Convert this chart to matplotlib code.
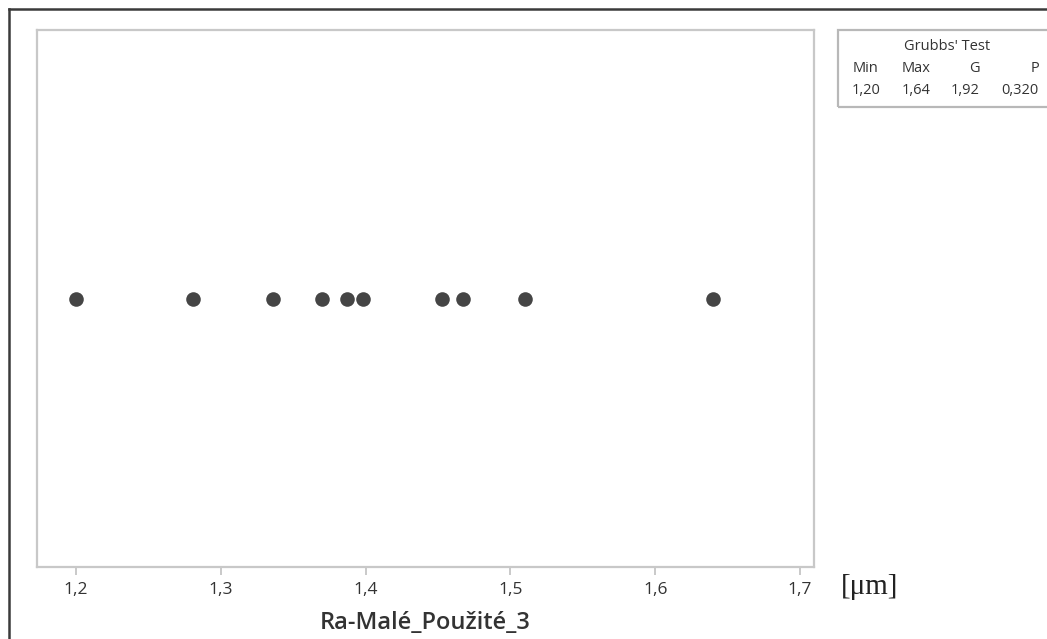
import matplotlib
matplotlib.use("Agg")
import matplotlib.pyplot as plt
from matplotlib.lines import Line2D
from matplotlib.patches import Rectangle

# Surface roughness Ra measurements
ra_values = [1.20, 1.281, 1.336, 1.370, 1.387, 1.398, 1.453, 1.467, 1.510, 1.640]
tick_values = [1.2, 1.3, 1.4, 1.5, 1.6, 1.7]
tick_labels = ["1,2", "1,3", "1,4", "1,5", "1,6", "1,7"]
x_label = "Ra-Malé_Použité_3"
unit_label = "[μm]"

# Grubbs' test summary
grubbs_headers = ["Min", "Max", "G", "P"]
grubbs_values = ["1,20", "1,64", "1,92", "0,320"]

W, H = 1047, 639
fig = plt.figure(figsize=(W / 100, H / 100), dpi=100)
fig.patch.set_facecolor("white")

def fx(px):
    return px / W

def fy(py):
    return 1 - py / H

# Outer frame (left and top edges visible)
fig.add_artist(Line2D([fx(9), fx(9)], [fy(9), fy(H + 5)], color="#3a3a3a", lw=1.8,
                      transform=fig.transFigure))
fig.add_artist(Line2D([fx(9), fx(W + 5)], [fy(9), fy(9)], color="#3a3a3a", lw=1.8,
                      transform=fig.transFigure))

ax_l, ax_r, ax_t, ax_b = 37, 814, 30, 567
ax = fig.add_axes([fx(ax_l), fy(ax_b), fx(ax_r - ax_l), (ax_b - ax_t) / H])
ax.scatter(ra_values, [0] * len(ra_values), s=110, color="#454545", zorder=3, linewidths=0)
ax.set_xlim(1.173, 1.7097)
ax.set_ylim(-1, 1)
ax.set_yticks([])
ax.set_xticks(tick_values)
ax.set_xticklabels(tick_labels, fontfamily="Open Sans", fontsize=12.5, color="#333333")
ax.tick_params(axis="x", length=6, width=1.2, color="#c0c0c0", pad=5)
for sp in ax.spines.values():
    sp.set_color("#c8c8c8")
    sp.set_linewidth(1.6)

fig.text(fx((ax_l + ax_r) / 2), fy(623), x_label, ha="center", va="center",
         fontfamily="Open Sans", fontsize=17, fontweight="semibold", color="#333333")
fig.text(fx(841), fy(587), unit_label, ha="left", va="center",
         fontfamily="Liberation Serif", fontsize=21, color="#222222")

# Grubbs' test box
box_l, box_t, box_b = 838, 30, 107
fig.add_artist(Rectangle((fx(box_l), fy(box_b)), fx(W + 10 - box_l), (box_b - box_t) / H,
                         transform=fig.transFigure, fill=False, edgecolor="#b8b8b8", lw=1.6))
fig.text(fx(947), fy(47), "Grubbs' Test", ha="center", va="center",
         fontfamily="Open Sans", fontsize=10.5, color="#333333")
col_x = [866, 916, 980, 1039]
col_ha = ["center", "center", "right", "right"]
for x, ha, head, val in zip(col_x, col_ha, grubbs_headers, grubbs_values):
    fig.text(fx(x), fy(69), head, ha=ha, va="center",
             fontfamily="Open Sans", fontsize=10.5, color="#333333")
    fig.text(fx(x), fy(90), val, ha=ha, va="center",
             fontfamily="Open Sans", fontsize=10.5, color="#333333")

fig.savefig("out.png", dpi=100)
